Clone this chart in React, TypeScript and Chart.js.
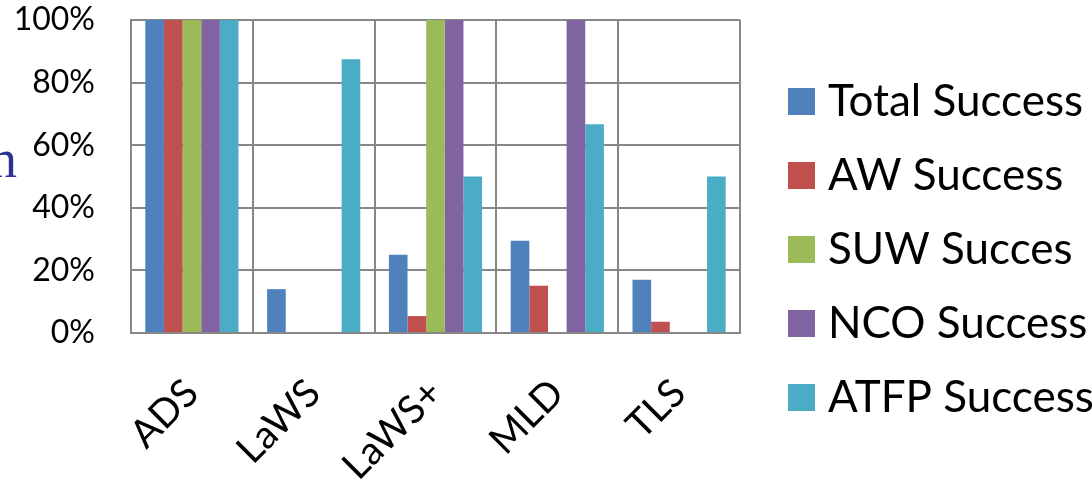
import React, { useEffect, useRef } from "react";
import { Chart, registerables } from "chart.js";

Chart.register(...registerables);

const categories = ["ADS", "LaWS", "LaWS+", "MLD", "TLS"];
const seriesNames = ["Total Success", "AW Success", "SUW Succes", "NCO Success", "ATFP Success"];
const totalSuccess = [100, 14, 25, 29.5, 17];
const awSuccess = [100, 0, 5.4, 15.1, 3.6];
const suwSuccess = [100, 0, 100, 0, 0];
const ncoSuccess = [100, 0, 100, 100, 0];
const atfpSuccess = [100, 87.5, 50, 66.7, 50];
const seriesColors = ["#4F81BD", "#C0504D", "#9BBB59", "#8064A2", "#4BACC6"];
const yTicks = [0, 20, 40, 60, 80, 100];

const FONT = "Lato, 'Open Sans', sans-serif";

const legendPlugin = {
  id: "sideLegend",
  afterDraw(chart: any) {
    const ctx = chart.ctx;
    const area = chart.chartArea;
    ctx.save();
    chart.data.datasets.forEach((ds: any, i: number) => {
      const bx = area.right + 48;
      const by = 88 + i * 74;
      ctx.fillStyle = ds.backgroundColor;
      ctx.fillRect(bx, by, 27, 27);
      ctx.fillStyle = "#000";
      ctx.font = `44px ${FONT}`;
      ctx.textBaseline = "alphabetic";
      ctx.textAlign = "left";
      ctx.fillText(ds.label, bx + 40, by + 28);
    });
    // fragment of cut-off slide text at the far left
    ctx.fillStyle = "#2E3192";
    ctx.font = "54px 'Liberation Serif', serif";
    ctx.fillText("n", -10, 177);
    ctx.restore();
  },
};

export default function App() {
  const ref = useRef<HTMLCanvasElement>(null);
  useEffect(() => {
    if (!ref.current) return;
    const data = [totalSuccess, awSuccess, suwSuccess, ncoSuccess, atfpSuccess];
    const chart = new Chart(ref.current, {
      type: "bar",
      data: {
        labels: categories,
        datasets: data.map((d, i) => ({
          label: seriesNames[i],
          data: d,
          backgroundColor: seriesColors[i],
          borderWidth: 0,
          categoryPercentage: 0.765,
          barPercentage: 1,
        })),
      },
      options: {
        animation: false,
        responsive: false,
        layout: { padding: { left: 0, top: 20, right: 352, bottom: 0 } },
        plugins: { legend: { display: false }, tooltip: { enabled: false } },
        scales: {
          x: {
            grid: { color: "#878787", lineWidth: 2, drawTicks: false, offset: true },
            border: { color: "#878787", width: 2 },
            ticks: {
              color: "#000",
              font: { family: FONT, size: 39 },
              maxRotation: 45,
              minRotation: 45,
              padding: 37,
            },
            afterFit: (s: any) => {
              s.height = 154;
            },
          },
          y: {
            min: 0,
            max: 100,
            afterBuildTicks: (s: any) => {
              s.ticks = yTicks.map((v) => ({ value: v }));
            },
            grid: {
              color: "#878787",
              lineWidth: 2,
              drawTicks: true,
              tickLength: 36,
              tickColor: "rgba(0,0,0,0)",
            },
            border: { color: "#878787", width: 2 },
            ticks: {
              color: "#000",
              font: { family: FONT, size: 32 },
              padding: 0,
              callback: (v: any) => `${v}%`,
            },
            afterFit: (s: any) => {
              s.width = 131;
            },
          },
        },
      },
      plugins: [legendPlugin],
    });
    return () => chart.destroy();
  }, []);
  return (
    <div style={{ position: "absolute", left: 0, top: 0, width: 1092, height: 487, background: "#fff" }}>
      <canvas ref={ref} width={1092} height={487} />
    </div>
  );
}
